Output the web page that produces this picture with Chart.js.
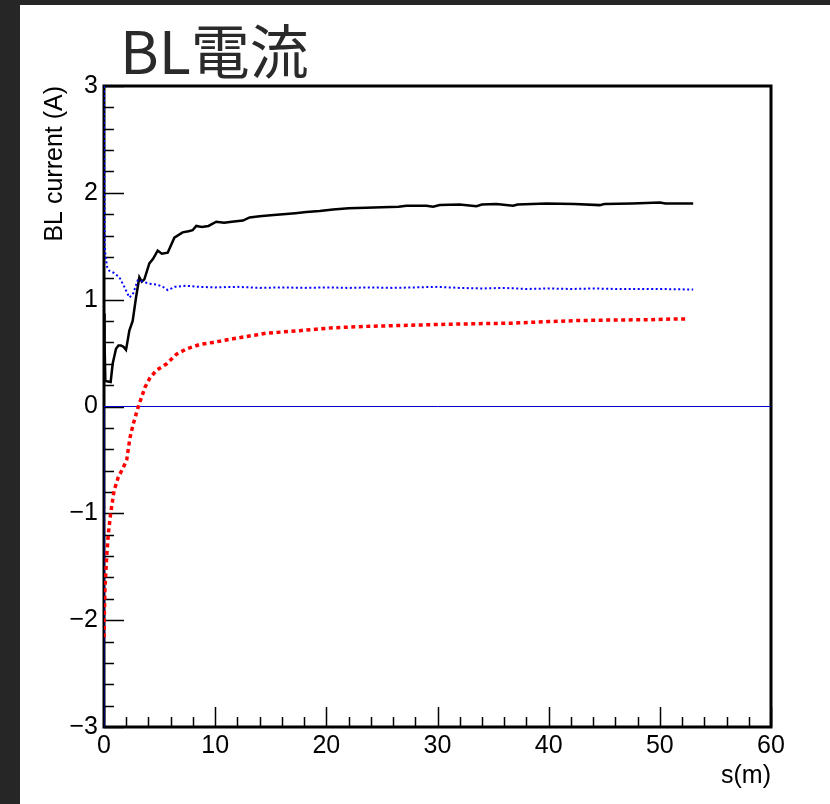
<!DOCTYPE html>
<html>
<head>
<meta charset="utf-8">
<script src="https://cdn.jsdelivr.net/npm/chart.js@4/dist/chart.umd.min.js"></script>
<style>
  html, body { margin: 0; padding: 0; background: #262626; width: 830px; height: 804px; overflow: hidden; }
  #pad { position: absolute; left: 20px; top: 5px; width: 810px; height: 799px; background: #fff; }
</style>
</head>
<body>
<div id="pad"><canvas id="blChart" width="810" height="799"></canvas></div>
<script>
// s(m) positions and BL current (A) for each trace
const sBlack = [0, 0.05, 0.12, 0.6, 0.78, 1.08, 1.3, 1.53, 1.75, 1.98, 2.1, 2.28, 2.58, 2.88, 3.18, 3.4, 3.63, 4.08, 4.4, 4.83, 5.2, 5.73, 6.33, 7.07, 7.6, 7.97, 8.3, 8.8, 9.4, 10.1, 10.8, 11.5, 12.5, 13.1, 14.0, 15.0, 16.1, 17.2, 18.2, 19.4, 20.6, 22.0, 23.6, 25.0, 26.5, 27.2, 29.0, 29.6, 30.2, 32.0, 33.5, 34.0, 35.3, 36.8, 37.2, 39.8, 42.3, 44.6, 45.0, 47.5, 50.0, 50.5, 53.0];
const iBlack = [0.87, 0.60, 0.24, 0.23, 0.40, 0.54, 0.57, 0.57, 0.56, 0.53, 0.60, 0.71, 0.80, 1.02, 1.21, 1.17, 1.19, 1.34, 1.38, 1.46, 1.43, 1.44, 1.58, 1.63, 1.64, 1.65, 1.69, 1.68, 1.69, 1.73, 1.72, 1.73, 1.74, 1.77, 1.78, 1.79, 1.80, 1.81, 1.82, 1.83, 1.845, 1.855, 1.86, 1.865, 1.87, 1.88, 1.88, 1.87, 1.885, 1.89, 1.875, 1.89, 1.895, 1.88, 1.89, 1.90, 1.895, 1.885, 1.895, 1.90, 1.91, 1.90, 1.90];

const sBlue = [0, 0.03, 0.06, 0.15, 0.3, 0.48, 0.9, 1.38, 1.83, 2.28, 2.6, 3.03, 3.48, 4.08, 4.8, 5.3, 5.73, 6.4, 7.37, 8.5, 10, 12, 14, 16, 18, 20, 22, 24, 26, 28, 30, 32, 34, 36, 38, 40, 42, 44, 46, 48, 50, 53];
const iBlue = [3.0, 2.2, 1.5, 1.40, 1.30, 1.27, 1.25, 1.21, 1.12, 1.02, 1.05, 1.18, 1.17, 1.15, 1.14, 1.12, 1.09, 1.12, 1.13, 1.12, 1.115, 1.12, 1.11, 1.115, 1.11, 1.115, 1.11, 1.115, 1.11, 1.115, 1.12, 1.11, 1.105, 1.11, 1.10, 1.105, 1.10, 1.105, 1.10, 1.10, 1.10, 1.095];

const sRed = [0, 0.03, 0.09, 0.24, 0.39, 0.6, 0.9, 1.29, 1.74, 2.04, 2.34, 2.64, 3.09, 3.69, 4.14, 4.74, 5.64, 6.53, 7.44, 8.6, 9.8, 11.6, 13.7, 14.6, 17.6, 20.6, 23.6, 26.6, 30.2, 33.5, 36.8, 40, 42.8, 46, 49, 51.2, 52.5];
const iRed = [-2.16, -1.94, -1.69, -1.41, -1.19, -1.00, -0.79, -0.66, -0.57, -0.50, -0.29, -0.16, 0.0, 0.18, 0.27, 0.34, 0.40, 0.49, 0.54, 0.58, 0.60, 0.634, 0.67, 0.686, 0.71, 0.737, 0.75, 0.758, 0.768, 0.775, 0.78, 0.795, 0.805, 0.81, 0.812, 0.82, 0.82];

// reference line at zero current
const sZero = [0, 0, 60];
const iZero = [-3, 0, 0];

const xTicks = [0, 10, 20, 30, 40, 50, 60];
const yTicks = [-3, -2, -1, 0, 1, 2, 3];

const pts = (xs, ys) => xs.map((x, i) => ({ x: x, y: ys[i] }));
const fmt = v => (v < 0 ? '\u2212' + Math.abs(v) : String(v));
const axisFont = { family: '"Liberation Sans", Arial, sans-serif', size: 25 };

// frame, inward tick marks and the title
const frameTicks = {
    id: 'frameTicks',
    beforeDatasetsDraw(chart) {
        const { ctx, chartArea: a, scales: { x, y } } = chart;
        ctx.save();
        ctx.strokeStyle = '#000';
        ctx.lineWidth = 1.5;
        ctx.beginPath();
        for (let k = 0; k <= 30; k++) {
            const v = -3 + k * 0.2;
            const py = Math.round(y.getPixelForValue(v)) + 0.5;
            const len = k % 5 === 0 ? 20 : 10;
            ctx.moveTo(a.left, py);
            ctx.lineTo(a.left + len, py);
        }
        for (let k = 0; k <= 30; k++) {
            const v = k * 2;
            const px = Math.round(x.getPixelForValue(v)) + 0.5;
            const len = k % 5 === 0 ? 20 : 10;
            ctx.moveTo(px, a.bottom);
            ctx.lineTo(px, a.bottom - len);
        }
        ctx.stroke();
        ctx.lineWidth = 3;
        ctx.strokeRect(a.left, a.top, a.right - a.left, a.bottom - a.top);
        ctx.restore();
    },
    afterDraw(chart) {
        const { ctx } = chart;
        ctx.save();
        ctx.fillStyle = '#2a2a2a';
        ctx.font = '59px "Noto Sans CJK JP", sans-serif';
        ctx.textBaseline = 'alphabetic';
        ctx.fillText('BL電流', 100, 69);
        ctx.restore();
    }
};

new Chart(document.getElementById('blChart').getContext('2d'), {
    type: 'line',
    data: {
        datasets: [{
            data: pts(sBlue, iBlue),
            borderColor: '#0000ff',
            borderWidth: 2,
            borderDash: [2, 2.5],
            order: 1
        }, {
            data: pts(sRed, iRed),
            borderColor: '#ff0000',
            borderWidth: 3.5,
            borderDash: [4, 3.5],
            order: 2
        }, {
            data: pts(sBlack, iBlack),
            borderColor: '#000000',
            borderWidth: 2.5,
            order: 3
        }, {
            data: pts(sZero, iZero),
            borderColor: '#0000cc',
            borderWidth: 1,
            order: 4
        }]
    },
    options: {
        responsive: false,
        animation: false,
        devicePixelRatio: 1,
        layout: { padding: { top: 81, right: 59, left: 0, bottom: 0 } },
        elements: { point: { radius: 0 }, line: { tension: 0, fill: false } },
        plugins: { legend: { display: false }, tooltip: { enabled: false }, title: { display: false } },
        scales: {
            x: {
                type: 'linear',
                min: 0,
                max: 60,
                afterFit: s => { s.height = 77; },
                afterBuildTicks: s => { s.ticks = xTicks.map(v => ({ value: v })); },
                grid: { display: false, drawTicks: false },
                border: { display: false },
                ticks: { autoSkip: false, maxRotation: 0, color: '#000', font: axisFont, padding: 4, callback: fmt },
                title: { display: true, text: 's(m)', align: 'end', color: '#000', font: axisFont, padding: { top: 0, bottom: 13 } }
            },
            y: {
                type: 'linear',
                min: -3,
                max: 3,
                afterFit: s => { s.width = 84; },
                afterBuildTicks: s => { s.ticks = yTicks.map(v => ({ value: v })); },
                grid: { display: false, drawTicks: false },
                border: { display: false },
                ticks: { autoSkip: false, color: '#000', font: axisFont, padding: 6, callback: fmt },
                title: { display: true, text: 'BL current (A)', align: 'end', color: '#000', font: axisFont, padding: { top: 20, bottom: 0 } }
            }
        }
    },
    plugins: [frameTicks]
});
</script>
</body>
</html>
